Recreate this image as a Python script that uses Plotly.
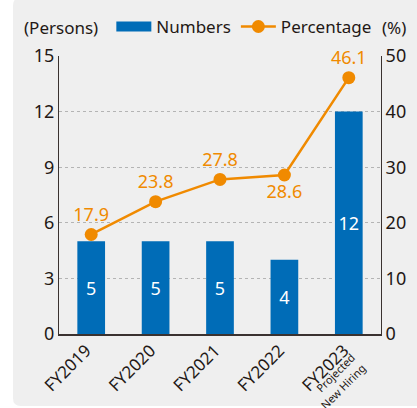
import plotly.graph_objects as go
from plotly.subplots import make_subplots

years = ["FY2019", "FY2020", "FY2021", "FY2022", "FY2023"]
sub_label = ["Projected", "New Hiring"]
numbers = [5, 5, 5, 4, 12]
percentage = [17.9, 23.8, 27.8, 28.6, 46.1]
pct_label_pos = ["top center", "top center", "top center", "bottom center", "top center"]

BLUE = "#006cb7"
ORANGE = "#f08a00"
TEXT = "#231815"
BG = "#efefef"
FONT = "Noto Sans"

fig = make_subplots(specs=[[{"secondary_y": True}]])

fig.add_trace(
    go.Bar(
        x=years, y=numbers, name="Numbers",
        marker=dict(color=BLUE, line=dict(width=0)),
        width=0.43,
        text=numbers, textposition="inside", insidetextanchor="middle",
        textfont=dict(color="white", size=18, family=FONT),
        constraintext="none",
        showlegend=False,
    ),
    secondary_y=False,
)

# legend stand-in for the bar series (wide flat rectangle)
fig.add_trace(
    go.Scatter(
        x=[None], y=[None], mode="lines", name="Numbers",
        line=dict(color=BLUE, width=10),
    ),
    secondary_y=False,
)

fig.add_trace(
    go.Scatter(
        x=years, y=percentage, name="Percentage",
        mode="lines+markers+text",
        line=dict(color=ORANGE, width=2.5),
        marker=dict(color=ORANGE, size=13),
        text=[f"{v:.1f}" for v in percentage],
        textposition=pct_label_pos,
        textfont=dict(color=ORANGE, size=18, family=FONT),
        cliponaxis=False,
    ),
    secondary_y=True,
)

# grey rounded panel behind everything
x0, x1, y0, y1 = -0.143, 1.13, -0.259, 1.21
rx, ry = 8 / 322, 8 / 278
panel = (
    f"M{x0 + rx},{y1} L{x1},{y1} L{x1},{y0} L{x0 + rx},{y0} "
    f"Q{x0},{y0} {x0},{y0 + ry} L{x0},{y1 - ry} Q{x0},{y1} {x0 + rx},{y1} Z"
)
fig.add_shape(type="path", path=panel, xref="paper", yref="paper",
              fillcolor=BG, line=dict(width=0), layer="below")

fig.add_annotation(x=-0.115, y=1.104, xref="paper", yref="paper", text="(Persons)",
                   showarrow=False, xanchor="left", yanchor="middle",
                   font=dict(size=17, color=TEXT, family=FONT))
fig.add_annotation(x=1.04, y=1.104, xref="paper", yref="paper", text="(%)",
                   showarrow=False, xanchor="center", yanchor="middle",
                   font=dict(size=17, color=TEXT, family=FONT))

# small sub-caption under the last category
for txt, px, py in zip(sub_label, [0.859, 0.881], [-0.139, -0.188]):
    fig.add_annotation(x=px, y=py, xref="paper", yref="paper", text=txt,
                       showarrow=False, textangle=-45,
                       xanchor="center", yanchor="middle",
                       font=dict(size=11, color=TEXT, family=FONT))

fig.update_xaxes(
    domain=[0, 1],
    tickvals=years, ticktext=years, tickangle=-45,
    tickfont=dict(size=17, color=TEXT, family=FONT),
    ticklabelshift=-5, ticklabelstandoff=-2,
    showline=True, linecolor="#3a3230", linewidth=2,
    showgrid=False, ticks="", automargin=False,
)
fig.update_yaxes(
    range=[0, 15], dtick=3, secondary_y=False,
    tickfont=dict(size=18, color=TEXT, family=FONT),
    showline=True, linecolor="#3a3230", linewidth=1,
    showgrid=True, gridcolor="#b4b4b4", griddash="dot", gridwidth=1,
    zeroline=False, ticks="", automargin=False,
)
fig.update_yaxes(
    range=[0, 50], dtick=10, secondary_y=True,
    tickfont=dict(size=18, color=TEXT, family=FONT),
    showline=True, linecolor="#3a3230", linewidth=1,
    showgrid=False, zeroline=False, ticks="", automargin=False,
)

fig.update_layout(
    width=417, height=408,
    margin=dict(l=59, r=36, t=56, b=74, autoexpand=False),
    paper_bgcolor="white", plot_bgcolor="rgba(0,0,0,0)",
    font=dict(family=FONT, color=TEXT),
    legend=dict(
        orientation="h", x=0.267, y=0.934, xref="container", yref="container",
        xanchor="left", yanchor="middle",
        font=dict(size=17, color=TEXT, family=FONT),
        bgcolor="rgba(0,0,0,0)", itemwidth=35, tracegroupgap=0,
    ),
)

# drop the page's default body margin so the figure sits at the window corner
fig.write_html(
    "out.html",
    config={"displayModeBar": False},
    post_script="document.body.style.margin='0';",
)
